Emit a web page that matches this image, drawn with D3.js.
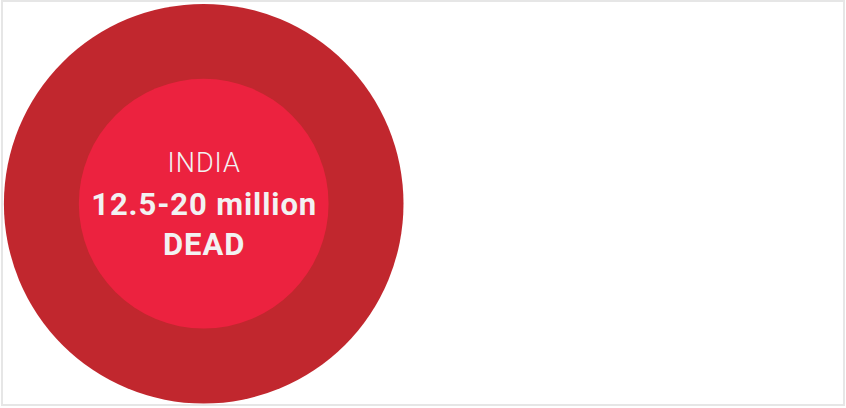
<!DOCTYPE html>
<html>
<head>
<meta charset="utf-8">
<script src="https://cdn.jsdelivr.net/npm/d3@7/dist/d3.min.js"></script>
<style>
  html, body { margin: 0; padding: 0; background: #fff; }
  svg { display: block; }
</style>
</head>
<body>
<svg id="chart" width="846" height="408"></svg>
<script>
// Data
const categories = ["INDIA"];
const estimateHigh = [20];   // million dead (outer circle)
const estimateLow = [12.5];  // million dead (inner circle)
const labelLines = ["12.5-20 million", "DEAD"];

const W = 846, H = 408;
const svg = d3.select("#chart");

// Frame
svg.append("rect")
  .attr("x", 2).attr("y", 1)
  .attr("width", 842).attr("height", 404)
  .attr("fill", "none")
  .attr("stroke", "#e6e6e6")
  .attr("stroke-width", 2);

const r = d3.scaleLinear().domain([0, 20]).range([0, 199.8]);
const cx = 203.7, cy = 203.7;

const g = svg.append("g").attr("transform", `translate(${cx},${cy})`);

g.selectAll("circle.high").data(estimateHigh).join("circle")
  .attr("class", "high")
  .attr("r", d => r(d))
  .attr("fill", "#c1272e");

g.selectAll("circle.low").data(estimateLow).join("circle")
  .attr("class", "low")
  .attr("r", d => r(d))
  .attr("fill", "#ec223f");

g.append("text")
  .text(categories[0])
  .attr("y", -32)
  .attr("dx", 0.5)
  .attr("text-anchor", "middle")
  .attr("font-family", "Roboto")
  .attr("font-weight", 300)
  .attr("font-size", 27)
  .attr("letter-spacing", 1)
  .attr("fill", "#f2f2f2");

g.selectAll("text.val").data(labelLines).join("text")
  .attr("class", "val")
  .text(d => d)
  .attr("y", (d, i) => 11 + i * 40.2)
  .attr("dx", 0.45)
  .attr("text-anchor", "middle")
  .attr("font-family", "Roboto")
  .attr("font-weight", 700)
  .attr("font-size", 31)
  .attr("letter-spacing", 0.9)
  .attr("fill", "#f2f2f2");
</script>
</body>
</html>
